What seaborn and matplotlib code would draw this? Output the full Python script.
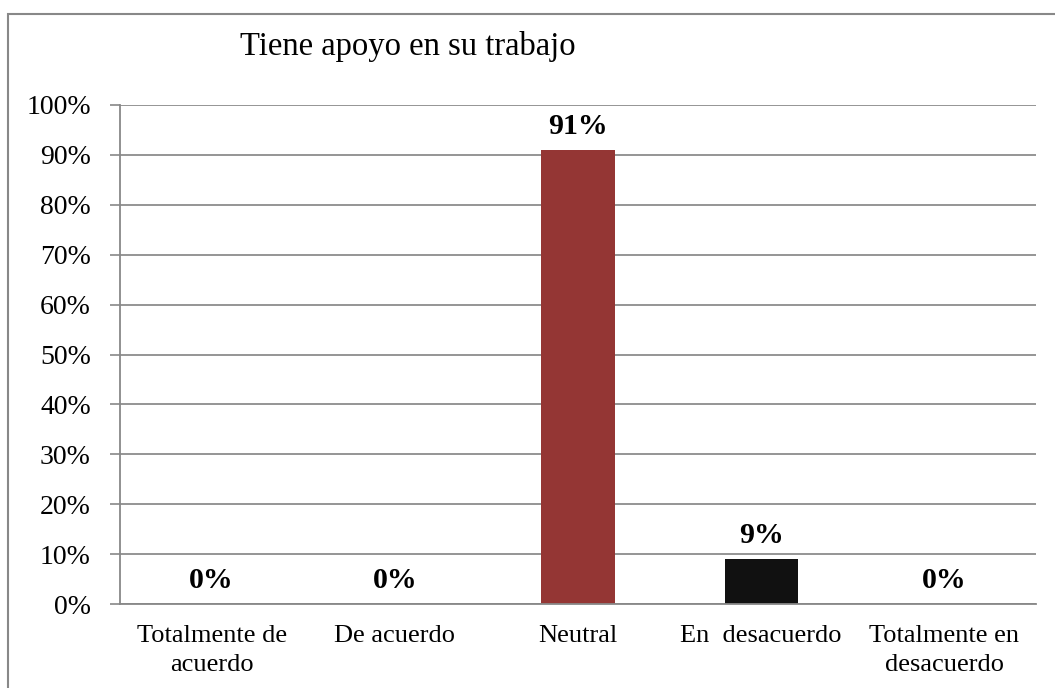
import matplotlib
matplotlib.use("Agg")
import matplotlib.pyplot as plt
from matplotlib.patches import Rectangle
from matplotlib.ticker import FixedLocator
import seaborn as sns
import pandas as pd

categorias = ["Totalmente de\nacuerdo", "De acuerdo", "Neutral", "En  desacuerdo", "Totalmente en\ndesacuerdo"]
valores = [0, 0, 91, 9, 0]
colores = ["#4F81BD", "#C0504D", "#943634", "#111111", "#8064A2"]
etiquetas_y = ["0%", "10%", "20%", "30%", "40%", "50%", "60%", "70%", "80%", "90%", "100%"]

sns.set_style("white")
plt.rcParams["font.family"] = ["Liberation Serif", "DejaVu Serif"]
plt.rcParams["text.color"] = "black"
plt.rcParams["xtick.color"] = "black"
plt.rcParams["ytick.color"] = "black"

df = pd.DataFrame({"categoria": categorias, "valor": valores})

fig = plt.figure(figsize=(10.55, 6.88), dpi=100)
ax = fig.add_axes([120 / 1055, 1 - 604 / 688, (1036 - 120) / 1055, (604 - 105) / 688])

sns.barplot(data=df, x="categoria", y="valor", hue="categoria", palette=colores,
            width=0.4, legend=False, ax=ax, saturation=1, linewidth=0)

ax.set_ylim(0, 100)
ax.set_xlim(-0.5, 4.5)
ax.set_yticks(range(0, 101, 10))
ax.set_yticklabels(etiquetas_y, fontsize=20)
ax.set_xticks(range(5))
ax.set_xticklabels(categorias, fontsize=19, linespacing=1.4)
ax.xaxis.set_minor_locator(FixedLocator([-0.5, 0.5, 1.5, 2.5, 3.5, 4.5]))
ax.tick_params(axis="x", which="major", length=0, pad=15, labelcolor="black")
ax.tick_params(axis="x", which="minor", length=7, color="#888888", width=1.2)
ax.tick_params(axis="y", length=7, color="#888888", width=1.2, pad=14, left=True,
               labelcolor="black")
ax.set_xlabel("")
ax.set_ylabel("")

ax.yaxis.grid(True, color="#8c8c8c", linewidth=1.3)
ax.set_axisbelow(True)
for lado in ["top", "right"]:
    ax.spines[lado].set_visible(False)
for lado in ["left", "bottom"]:
    ax.spines[lado].set_color("#888888")
    ax.spines[lado].set_linewidth(1.3)

for i, v in enumerate(valores):
    ax.annotate(f"{v}%", (i, v), xytext=(0, 7), textcoords="offset points",
                ha="center", va="bottom", fontsize=21.5, fontweight="bold",
                color="black")

fig.text(240 / 1055, 1 - 47 / 688, "Tiene apoyo en su trabajo", fontsize=23.5,
         ha="left", va="center", color="black")

fig.patches.append(Rectangle((8 / 1055, -0.05), 1.1, 1 - 14 / 688 + 0.05,
                             transform=fig.transFigure, fill=False,
                             edgecolor="#888888", linewidth=1.5))

fig.savefig("out.png", dpi=100)
